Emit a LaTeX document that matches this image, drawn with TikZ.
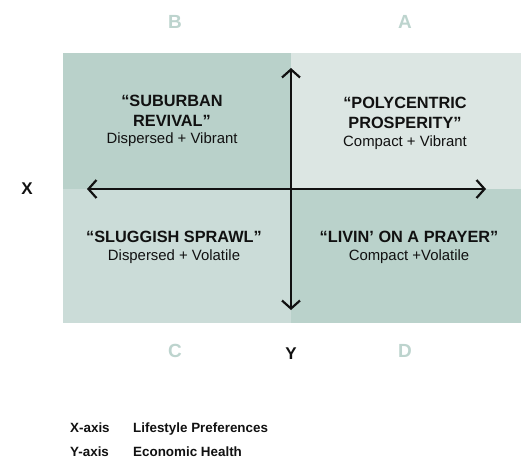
\documentclass[tikz,border=0pt]{standalone}
\usepackage{fontspec}
\setmainfont{Liberation Sans}
\usetikzlibrary{arrows.meta}
\definecolor{qB}{HTML}{B9D1CA}
\definecolor{qA}{HTML}{DCE6E3}
\definecolor{qC}{HTML}{CBDCD8}
\definecolor{qD}{HTML}{BAD2CB}
\definecolor{lett}{HTML}{BDD4CE}
\definecolor{ink}{HTML}{111111}
\tikzset{
  title/.style={font=\fontsize{16.3}{20}\selectfont\bfseries, text=ink, align=center, inner sep=0pt},
  sub/.style={font=\fontsize{14.9}{17}\selectfont, text=ink, inner sep=0pt},
  quadlet/.style={font=\fontsize{19}{21}\selectfont\bfseries, text=lett, inner sep=0pt},
  axlet/.style={font=\fontsize{17}{19}\selectfont\bfseries, text=ink, inner sep=0pt},
  legend/.style={font=\fontsize{13.4}{15}\selectfont\bfseries, text=ink, anchor=base west, inner sep=0pt},
  axis/.style={line width=2.2pt, ink, {Straight Barb[length=8pt,width=18pt]}-{Straight Barb[length=8pt,width=18pt]}}
}
\begin{document}
\begin{tikzpicture}[x=1pt,y=-1pt]
\useasboundingbox (0,0) rectangle (521,459);
\fill[white] (0,0) rectangle (521,459);
% quadrants
\fill[qB] (63,53) rectangle (291,189);
\fill[qA] (291,53) rectangle (521,189);
\fill[qC] (63,189) rectangle (291,323);
\fill[qD] (291,189) rectangle (521,323);
% letters
\node[quadlet] (lB) at (175,22) {B};
\node[quadlet] (lA) at (405,22) {A};
\node[quadlet] (lC) at (175,351) {C};
\node[quadlet] (lD) at (405,351) {D};
\node[axlet] (lX) at (27,189) {X};
\node[axlet] (lY) at (291,354) {Y};
% axes
\coordinate (top) at (291,68);
\coordinate (bot) at (291,310);
\coordinate (left) at (87,189);
\coordinate (right) at (486,189);
\draw[axis] (bot) -- (top);
\draw[axis] (left) -- (right);
% quadrant texts
\node[title, anchor=base] (tB) at (172,126) {“SUBURBAN\\REVIVAL”};
\node[sub, anchor=base] (sB) at (172,143) {Dispersed + Vibrant};
\node[title, anchor=base] (tA) at (405,128) {“POLYCENTRIC\\PROSPERITY”};
\node[sub, anchor=base] (sA) at (405,146) {Compact + Vibrant};
\node[title, anchor=base] (tC) at (174,242) {“SLUGGISH SPRAWL”};
\node[sub, anchor=base] (sC) at (174,260) {Dispersed + Volatile};
\node[title, anchor=base] (tD) at (409,242) {“LIVIN’ ON A PRAYER”};
\node[sub, anchor=base] (sD) at (409,260) {Compact +Volatile};
% legend
\node[legend] (lx1) at (70,432) {X-axis};
\node[legend] (lx2) at (133,432) {Lifestyle Preferences};
\node[legend] (ly1) at (70,456) {Y-axis};
\node[legend] (ly2) at (133,456) {Economic Health};
\end{tikzpicture}
\end{document}
